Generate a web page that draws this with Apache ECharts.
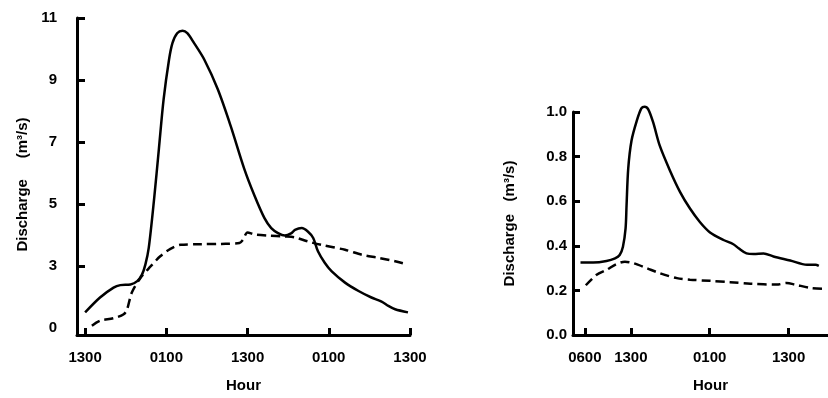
<!DOCTYPE html>
<html><head><meta charset="utf-8">
<script src="https://cdn.jsdelivr.net/npm/echarts@6/dist/echarts.min.js"></script>
<style>html,body{margin:0;padding:0;background:#fff}#c{width:828px;height:398px}</style>
</head><body><div id="c"></div>
<script>
// Left panel (hours since first 13:00)
const leftSolidHours = [0,2.2,4.2,5.2,6.7,7.7,8.4,8.9,9.4,10.2,10.9,11.6,12.4,12.9,13.6,14.4,15.1,16.1,17.6,19.6,21.5,23.5,25.0,26.5,27.5,28.5,29.5,30.5,31.0,32.0,32.9,33.7,34.4,35.4,36.4,38.4,40.4,42.3,43.8,44.8,45.8,47.7];
const leftSolidValues = [1.50,1.98,2.30,2.38,2.40,2.51,2.72,3.04,3.58,5.18,6.78,8.38,9.66,10.19,10.51,10.59,10.51,10.19,9.66,8.70,7.52,6.14,5.28,4.54,4.22,4.06,3.98,4.06,4.16,4.22,4.11,3.90,3.47,3.10,2.83,2.46,2.19,1.98,1.85,1.71,1.60,1.50];
const leftDashHours = [1.0,2.2,4.2,5.7,6.2,6.9,8.2,9.7,11.1,12.6,14.1,17.1,20.1,22.8,23.3,24.0,25.0,27.0,29.5,31.0,32.9,34.9,38.4,40.9,43.3,45.8,47.7];
const leftDashValues = [1.07,1.23,1.31,1.44,1.60,2.14,2.62,2.99,3.31,3.55,3.68,3.70,3.71,3.74,3.84,4.08,4.02,3.98,3.95,3.92,3.79,3.68,3.52,3.36,3.26,3.15,3.04];
const leftXTickValues = [0,12,24,36,48];
const leftXTickLabels = ['1300','0100','1300','0100','1300'];
const leftYTickValues = [1,3,5,7,9,11];
const leftYTickLabels = ['0','3','5','7','9','11'];

// Right panel (hours since 06:00)
const rightSolidHours = [-0.66,1.27,3.3,4.6,5.3,5.8,6.2,6.35,6.6,7.1,7.9,8.6,9.1,9.65,10.4,11.4,12.96,14.5,16.0,17.5,19.05,21.1,22.6,23.4,24.6,25.7,27.2,28.7,31.25,33.8,35.1,35.6];
const rightSolidValues = [0.325,0.325,0.332,0.344,0.359,0.396,0.478,0.582,0.745,0.871,0.960,1.016,1.024,1.012,0.953,0.849,0.737,0.641,0.567,0.507,0.460,0.426,0.407,0.389,0.366,0.363,0.366,0.352,0.334,0.315,0.315,0.310];
const rightDashHours = [0.15,1.8,3.3,4.8,6.1,7.4,9.4,11.4,14.0,16.0,19.05,22.1,25.2,29.2,30.7,32.0,34.3,36.8];
const rightDashValues = [0.223,0.270,0.292,0.318,0.329,0.322,0.300,0.277,0.255,0.248,0.243,0.237,0.230,0.226,0.233,0.226,0.211,0.206];
const rightXTickValues = [0,7,19,31];
const rightXTickLabels = ['0600','1300','0100','1300'];

const yName = 'Discharge';
const unitName = '(m³/s)';

const FONT = '"Liberation Sans", Arial, Helvetica, sans-serif';
const txt = {color:'#000', fontFamily: FONT, fontWeight:'bold', fontSize:15};
const zip = (a,b) => a.map((x,i)=>[x,b[i]]);
const axLine = {show:true, onZero:false, lineStyle:{color:'#000', width:3}};

const chart = echarts.init(document.getElementById('c'), null, {renderer:'canvas'});
chart.setOption({
  animation:false,
  backgroundColor:'#fff',
  grid:[
    {left:77, top:18, width:333, bottom:61},
    {left:573, top:112, right:0, bottom:61}
  ],
  xAxis:[
    {gridIndex:0, type:'value', min:-1.2, max:48, splitLine:{show:false}, axisLine:axLine,
     axisTick:{show:true, inside:true, length:7, lineStyle:{width:3,color:'#000'}, customValues:leftXTickValues},
     axisLabel:Object.assign({margin:15, customValues:leftXTickValues, formatter:v=>leftXTickLabels[leftXTickValues.indexOf(v)]}, txt),
     name:'Hour', nameLocation:'middle', nameGap:43, nameTextStyle:txt},
    {gridIndex:1, type:'value', min:-1.8, max:37, splitLine:{show:false}, axisLine:axLine,
     axisTick:{show:true, inside:true, length:7, lineStyle:{width:3,color:'#000'}, customValues:rightXTickValues},
     axisLabel:Object.assign({margin:15, customValues:rightXTickValues, formatter:v=>rightXTickLabels[rightXTickValues.indexOf(v)]}, txt),
     name:'Hour', nameLocation:'middle', nameGap:43, nameTextStyle:Object.assign({padding:[0,0,0,20]}, txt)}
  ],
  yAxis:[
    {gridIndex:0, type:'value', min:0.77, max:11, splitLine:{show:false}, axisLine:axLine,
     axisTick:{show:true, inside:true, length:8, lineStyle:{width:3,color:'#000'}, customValues:leftYTickValues.slice(1)},
     axisLabel:Object.assign({margin:20, customValues:leftYTickValues, formatter:v=>leftYTickLabels[leftYTickValues.indexOf(v)]}, txt),
     name:yName+'     '+unitName, nameLocation:'middle', nameGap:47, nameTextStyle:Object.assign({padding:[0,16,0,0]}, txt)},
    {gridIndex:1, type:'value', min:0, max:1.0, interval:0.2, splitLine:{show:false}, axisLine:axLine,
     axisTick:{show:true, inside:true, length:7, lineStyle:{width:3,color:'#000'}},
     axisLabel:Object.assign({margin:6, formatter:v=>v.toFixed(1)}, txt),
     name:yName+'   '+unitName, nameLocation:'middle', nameGap:56, nameTextStyle:txt}
  ],
  series:[
    {type:'line', xAxisIndex:0, yAxisIndex:0, data:zip(leftSolidHours,leftSolidValues), smooth:0.3, showSymbol:false, clip:false, lineStyle:{color:'#000', width:2.5}},
    {type:'line', xAxisIndex:0, yAxisIndex:0, data:zip(leftDashHours,leftDashValues), smooth:0.3, showSymbol:false, clip:false, lineStyle:{color:'#000', width:2.5, type:[9,5]}},
    {type:'line', xAxisIndex:1, yAxisIndex:1, data:zip(rightSolidHours,rightSolidValues), smooth:0.3, showSymbol:false, clip:false, lineStyle:{color:'#000', width:2.5}},
    {type:'line', xAxisIndex:1, yAxisIndex:1, data:zip(rightDashHours,rightDashValues), smooth:0.3, showSymbol:false, clip:false, lineStyle:{color:'#000', width:2.5, type:[9,5]}}
  ]
});
</script></body></html>
